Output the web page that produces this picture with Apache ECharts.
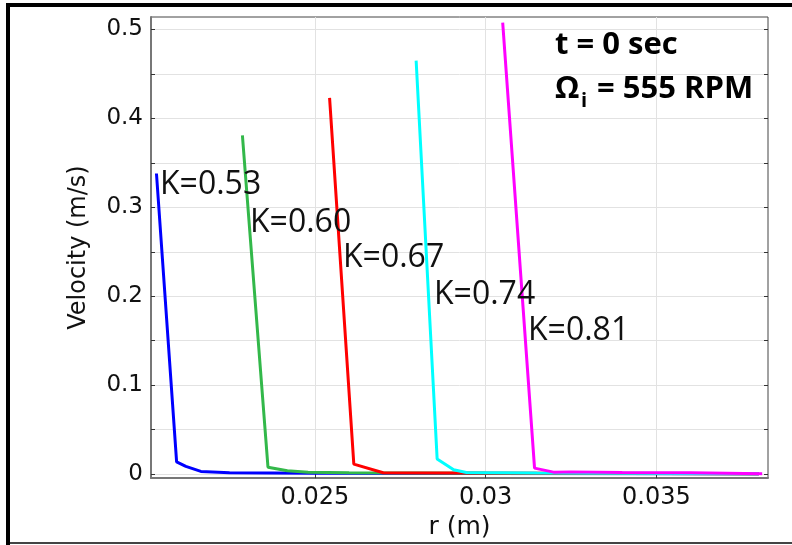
<!DOCTYPE html>
<html><head><meta charset="utf-8">
<script src="https://cdn.jsdelivr.net/npm/echarts@6/dist/echarts.min.js"></script>
<style>html,body{margin:0;padding:0;background:#fff}#c{width:792px;height:545px}</style>
</head><body><div id="c"></div>
<script>
// ---- data ----
const seriesNames = ['K=0.53','K=0.60','K=0.67','K=0.74','K=0.81'];
const seriesColors = ['#0000ff','#33b84a','#ff0000','#00ffff','#ff00ff'];
const rK053 = [0.02036, 0.02095, 0.02122, 0.02166, 0.0225, 0.025, 0.030, 0.038];
const vK053 = [0.338, 0.0138, 0.0086, 0.0030, 0.0015, 0.0010, 0.0008, 0.0005];
const rK060 = [0.022877, 0.023626, 0.024193, 0.0248, 0.026, 0.030, 0.038];
const vK060 = [0.381, 0.0078, 0.0037, 0.0022, 0.0015, 0.0010, 0.0005];
const rK067 = [0.02543, 0.02614, 0.02700, 0.0295, 0.038];
const vK067 = [0.423, 0.0112, 0.0015, 0.0012, 0.0005];
const rK074 = [0.027965, 0.02858, 0.029064, 0.029436, 0.0315, 0.038];
const vK074 = [0.465, 0.0171, 0.0048, 0.0019, 0.0012, 0.0005];
const rK081 = [0.0305, 0.031433, 0.031988, 0.0325, 0.034, 0.036, 0.0381];
const vK081 = [0.5076, 0.0067, 0.0022, 0.0025, 0.0018, 0.0015, 0.0005];
const rArrays = [rK053, rK060, rK067, rK074, rK081];
const vArrays = [vK053, vK060, vK067, vK074, vK081];
const xTicks = [0.025, 0.030, 0.035];
const xTickLabels = ['0.025', '0.03', '0.035'];
const yTicks = [0, 0.05, 0.1, 0.15, 0.2, 0.25, 0.3, 0.35, 0.4, 0.45, 0.5];
const yLabelValues = [0, 0.1, 0.2, 0.3, 0.4, 0.5];
const yTickLabels = ['0', '0.1', '0.2', '0.3', '0.4', '0.5'];
const xMin = 0.0202, xMax = 0.03827, yMin = -0.0045, yMax = 0.514;

// ---- chart ----
const chart = echarts.init(document.getElementById('c'), null, {renderer: 'canvas'});
const gridColor = '#e2e2e2';
const xAxisBase = {
  type: 'value', min: xMin, max: xMax,
  axisTick: {show: true, inside: true, length: 4, customValues: xTicks, lineStyle: {color: '#333'}},
  splitLine: {show: true, lineStyle: {color: gridColor, width: 1}}
};
const yAxisBase = {
  type: 'value', min: yMin, max: yMax,
  axisTick: {show: true, inside: true, length: 4, customValues: yTicks, lineStyle: {color: '#333'}},
  splitLine: {show: true, lineStyle: {color: gridColor, width: 1}}
};
const series = rArrays.map((rs, i) => ({
  type: 'line', name: seriesNames[i], xAxisIndex: 0, yAxisIndex: 0,
  data: rs.map((r, j) => [r, vArrays[i][j]]),
  showSymbol: false, symbol: 'none',
  lineStyle: {color: seriesColors[i], width: 3},
  itemStyle: {color: seriesColors[i]},
  z: 2 + i, animation: false
}));
const labelPos = [[160, 191], [250, 229], [343, 264], [434, 301], [528, 337]];
const graphics = seriesNames.map((n, i) => ({
  type: 'text', left: labelPos[i][0], top: labelPos[i][1] - 22, z: 100,
  style: {text: n, fill: '#111', font: '32px "Open Sans"'}
}));
graphics.push(
  {type: 'text', left: 555, top: 30, z: 100, style: {text: 't = 0 sec', fill: '#000', font: 'bold 31px "Open Sans"'}},
  {type: 'text', left: 555, top: 74, z: 100, style: {text: 'Ω', fill: '#000', font: 'bold 31px "Open Sans"'}},
  {type: 'text', left: 581, top: 91, z: 100, style: {text: 'i', fill: '#000', font: 'bold 20px "Open Sans"'}},
  {type: 'text', left: 597, top: 74, z: 100, style: {text: '= 555 RPM', fill: '#000', font: 'bold 31px "Open Sans"'}},
  {type: 'rect', shape: {x: 6, y: 3, width: 786, height: 4}, style: {fill: '#000'}, z: 100},
  {type: 'rect', shape: {x: 6, y: 3, width: 4, height: 542}, style: {fill: '#000'}, z: 100},
  {type: 'rect', shape: {x: 10, y: 542, width: 782, height: 2}, style: {fill: '#444'}, z: 100}
);
chart.setOption({
  animation: false,
  backgroundColor: '#fff',
  grid: {left: 151, right: 24, top: 17, bottom: 65, show: true, borderColor: '#444', borderWidth: 1, backgroundColor: 'transparent'},
  xAxis: [
    Object.assign({}, xAxisBase, {
      position: 'bottom',
      name: 'r (m)', nameLocation: 'middle', nameGap: 36,
      nameTextStyle: {fontFamily: 'DejaVu Sans', fontSize: 25, color: '#111'},
      axisLine: {show: true, onZero: false, lineStyle: {color: '#777', width: 2}},
      axisLabel: {show: true, customValues: xTicks, margin: 8,
        formatter: v => { const k = xTicks.findIndex(t => Math.abs(t - v) < 1e-9); return k >= 0 ? xTickLabels[k] : ''; },
        fontFamily: 'DejaVu Sans', fontSize: 24, color: '#111'}
    }),
    Object.assign({}, xAxisBase, {
      position: 'top', axisLine: {show: false}, axisLabel: {show: false}, splitLine: {show: false}
    })
  ],
  yAxis: [
    Object.assign({}, yAxisBase, {
      position: 'left',
      name: 'Velocity (m/s)', nameLocation: 'middle', nameGap: 60, nameRotate: 90,
      nameTextStyle: {fontFamily: 'DejaVu Sans', fontSize: 24, color: '#111'},
      axisLine: {show: true, onZero: false, lineStyle: {color: '#777', width: 2}},
      axisLabel: {show: true, customValues: yLabelValues, margin: 8,
        formatter: v => { const k = yLabelValues.findIndex(t => Math.abs(t - v) < 1e-9); return k >= 0 ? yTickLabels[k] : ''; },
        fontFamily: 'DejaVu Sans', fontSize: 23, color: '#111'}
    }),
    Object.assign({}, yAxisBase, {
      position: 'right', axisLine: {show: false}, axisLabel: {show: false}, splitLine: {show: false}
    })
  ],
  series: series,
  graphic: graphics
});
</script></body></html>
